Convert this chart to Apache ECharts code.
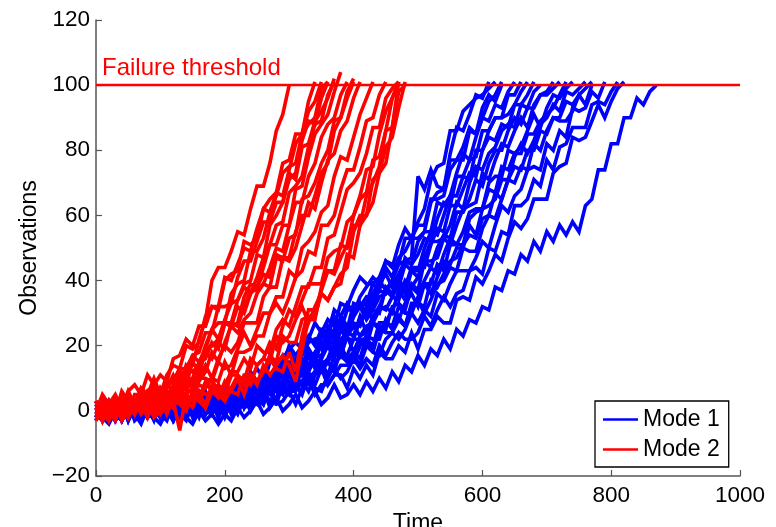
<!DOCTYPE html>
<html><head><meta charset="utf-8">
<script src="https://cdn.jsdelivr.net/npm/echarts@6/dist/echarts.min.js"></script>
<style>html,body{margin:0;padding:0;background:#fff}#c{width:776px;height:527px}</style>
</head><body><div id="c"></div>
<script>
// ---------- data (each path sampled every TIME_STEP time units, starting at t = 0) ----------
const TIME_STEP = 10;
const X_TICKS = [0, 200, 400, 600, 800, 1000];
const Y_TICKS = [-20, 0, 20, 40, 60, 80, 100, 120];
const THRESHOLD = 100;
const THRESHOLD_LABEL = 'Failure threshold';
const MODE_NAMES = ['Mode 1', 'Mode 2'];
const X_NAME = 'Time';
const Y_NAME = 'Observations';

// Mode 2 (red) trajectories
const red01 = [3,-1,2,-1,5,2,2,5,2,8,3,8,9,13,13,14,22,28,40,44,44,49,55,54,62,69,69,76,86,91,100];
const red02 = [-3,1,1,3,1,-1,5,5,2,8,5,7,11,7,13,17,15,19,25,27,27,36,39,40,49,49,53,61,67,66,74,82,85,92,95,101];
const red03 = [-1,1,3,-2,3,5,1,2,6,4,2,8,9,7,14,12,14,20,25,22,28,33,34,39,40,48,47,57,60,64,71,73,83,89,88,96,101];
const red04 = [-3,2,2,-1,4,1,0,4,6,1,5,8,6,10,8,15,12,19,20,22,27,27,34,38,36,41,47,51,57,58,67,69,72,81,88,89,97,101];
const red05 = [0,2,-1,2,-1,4,-1,4,3,2,5,3,8,11,6,10,15,16,21,19,27,26,27,35,39,38,44,51,51,57,57,68,69,78,85,88,91,98,104];
const red06 = [1,-2,2,4,-2,0,3,2,5,1,7,4,3,8,10,8,12,18,16,21,19,27,26,32,37,37,39,44,50,49,57,64,64,72,76,84,88,90,97,101];
const red07 = [3,-1,-3,2,3,-1,1,5,1,4,0,6,3,7,11,9,9,12,18,15,21,26,24,28,30,36,39,38,47,46,53,54,65,66,70,76,80,89,90,96,101];
const red08 = [0,-1,2,-2,4,-2,2,2,4,1,0,6,6,4,10,7,10,14,10,16,20,18,21,27,27,27,35,38,38,47,46,50,57,64,62,70,77,79,86,89,96,101];
const red09 = [-3,2,1,-2,3,0,1,3,-2,3,5,1,3,-6,5,3,10,10,9,15,13,14,19,24,20,25,30,30,35,35,43,41,50,52,55,61,63,72,78,77,84,91,96,101];
const red10 = [3,-2,-1,2,1,-2,3,2,-1,5,1,0,4,7,1,5,8,7,10,9,15,11,18,18,19,23,23,30,33,30,35,41,43,49,48,57,57,60,68,74,74,81,89,90,97,101];
const red11 = [-1,-2,1,3,-3,0,3,0,2,-1,4,-1,4,3,2,5,3,8,10,5,8,12,12,16,13,20,18,18,25,28,26,32,38,38,44,44,53,54,61,68,70,73,79,87,87,96,99,101];
const red12 = [3,-3,2,0,-1,1,-1,3,4,-2,0,3,2,4,1,6,3,1,6,7,4,7,11,8,11,8,14,11,14,17,14,9,19,28,28,38,43,42,47,51,60,65,67,77,78,86,87,98,100];
const red13 = [3,-1,3,-1,6,3,2,7,5,10,5,11,14,13,20,19,21,29,32,32,41,40,45,50,49,56,62,61,66,73,75,76,85,88,90,99,101];
const red14 = [0,5,2,5,1,6,8,5,11,8,11,9,16,17,22,20,26,26,32,31,40,42,43,52,51,53,62,65,67,76,77,85,85,95,101];
const red15 = [1,-2,3,2,0,6,2,1,6,6,4,9,9,13,9,17,18,24,24,32,32,33,41,46,46,52,58,58,64,64,73,71,81,82,89,92,96,102];
const red16 = [-2,2,0,-3,3,0,3,-1,2,4,-1,2,4,2,0,5,5,2,8,5,3,7,10,5,11,9,12,17,15,23,21,21,28,29,29,36,34,38,42,44,55,60,60,71,73,81,84,93,101];
const red17 = [3,-1,-2,2,3,-1,1,4,1,-1,4,3,1,6,2,4,6,1,6,8,4,6,10,10,8,14,16,15,23,21,23,28,32,27,32,36,34,38,39,48,47,57,60,64,73,76,87,101];
const red18 = [-1,3,-1,4,1,-1,3,4,0,4,6,2,1,6,5,7,4,9,6,8,5,11,11,9,16,14,16,21,19,26,31,29,34,39,39,39,47,49,50,58,60,66,74,75,85,92,96,101];
const red19 = [2,-3,2,3,-1,5,1,3,5,1,6,9,5,8,12,12,11,19,20,20,27,26,32,30,36,38,42,41,48,47,47,55,60,60,66,73,76,86,90,98,102];
const red20 = [0,2,-3,2,4,-1,0,4,2,-1,4,4,1,6,3,1,6,5,6,4,9,6,5,11,11,9,12,16,13,12,18,12,23,31,31,37,43,43,51,50,57,57,66,70,75,86,96,101];

// Mode 1 (blue) trajectories
const blue01 = [-2,3,-3,1,0,2,-1,-3,3,2,-1,4,0,2,4,-1,3,6,1,3,6,5,3,9,9,7,13,11,11,16,19,14,19,22,21,24,23,29,25,31,31,32,35,34,39,42,38,42,46,47,72,68,74,69,68,79,87,86,91,97,96,101];
const blue02 = [-2,3,-1,-2,1,4,-2,1,3,0,2,-1,5,-1,4,2,2,4,2,6,8,3,6,10,10,13,10,17,14,14,19,21,19,22,27,24,28,26,33,32,37,41,39,39,41,46,44,51,56,53,58,62,71,75,76,86,86,92,94,96,97,99,101];
const blue03 = [2,3,-3,-1,1,0,3,-1,4,0,-2,2,3,0,2,5,1,4,0,6,2,6,9,7,6,8,12,8,14,17,13,16,17,21,22,19,26,23,28,25,33,32,33,39,37,44,41,47,49,53,53,55,64,67,68,77,77,81,87,85,93,97,95,100];
const blue04 = [1,-3,2,-2,1,3,0,-1,0,3,-2,2,4,-1,2,1,4,3,0,5,1,5,2,9,7,7,11,8,15,10,15,15,19,17,17,23,24,22,29,26,29,33,30,36,40,37,40,45,46,45,52,55,55,64,63,66,73,79,77,84,90,89,94,93,98,101];
const blue05 = [0,2,-1,-3,2,1,-2,3,0,1,3,-2,2,4,-1,1,4,2,-1,5,4,2,8,4,4,8,11,6,10,13,11,14,13,19,15,21,21,21,25,23,29,32,28,31,35,36,40,38,45,43,43,50,55,54,60,66,66,72,71,80,80,86,90,90,91,94,98,101];
const blue06 = [2,-3,1,3,-2,-1,2,0,-2,3,2,-1,4,0,-1,3,5,-1,2,5,2,5,2,8,3,9,8,8,11,8,13,15,11,14,17,17,21,18,25,22,22,28,31,28,32,37,35,39,36,43,41,47,52,52,53,57,64,62,70,75,74,79,81,86,88,87,94,93,98,100];
const blue07 = [2,-1,1,-2,3,-3,2,0,-1,2,-1,3,4,-2,0,2,1,4,0,5,1,0,5,6,3,6,10,7,9,6,12,9,13,17,15,14,16,21,17,23,26,23,26,27,31,32,30,37,34,39,37,46,46,47,53,51,57,62,63,64,73,71,77,82,81,86,90,87,94,97,97,99,101];
const blue08 = [-1,-3,1,2,-2,0,3,-1,1,-3,3,-1,2,4,1,-1,0,3,-1,3,5,1,3,3,7,7,3,9,6,9,6,11,14,12,16,15,15,19,17,23,18,23,24,27,26,25,32,33,31,38,36,40,44,42,48,53,51,55,61,62,62,70,72,72,80,79,81,86,91,87,93,97,96,99,101];
const blue09 = [0,-2,-1,2,-3,1,3,-2,0,-1,2,2,-2,3,-1,2,-2,4,1,1,4,1,6,1,5,5,8,5,4,9,9,7,13,10,12,15,11,17,20,16,18,22,22,20,27,27,26,32,30,30,35,39,36,41,46,45,50,50,57,54,62,63,65,71,71,78,82,79,83,88,90,94,92,98,97,99,101];
const blue10 = [-3,3,0,-1,2,-2,3,-3,1,0,2,-1,-2,3,2,-1,4,0,1,3,-2,3,5,1,2,6,5,2,8,7,5,11,8,8,12,15,10,14,17,15,18,16,23,18,25,24,24,28,26,32,34,30,34,39,40,44,43,50,49,49,56,60,59,65,71,70,75,74,82,80,86,90,89,89,92,97,94,100];
const blue11 = [-2,3,-1,0,2,-3,1,3,-2,-1,2,0,-3,3,2,-1,4,0,-1,2,4,-1,2,5,2,5,2,8,2,8,6,6,9,6,11,13,8,11,14,14,17,14,20,18,17,22,24,22,25,30,27,31,29,36,34,39,43,43,43,47,52,50,57,63,61,66,68,74,75,74,82,80,86,84,93,92,93,98,96,101];
const blue12 = [-1,2,0,-3,2,1,-2,3,-1,-2,1,3,-3,0,1,0,2,-1,4,-2,3,1,1,3,1,5,7,1,4,6,5,8,5,11,7,6,11,13,10,12,16,13,16,14,20,17,21,24,22,22,24,29,26,31,35,32,36,37,43,44,42,50,49,55,54,63,63,65,71,69,77,74,81,82,87,87,87,94,95,94,98,101];
const blue13 = [0,-1,1,-2,2,3,-3,-1,1,0,2,-2,3,-1,-3,2,3,-1,1,4,0,2,-1,4,0,4,6,3,2,3,6,2,7,10,5,8,8,11,11,7,13,10,14,11,18,16,16,20,18,24,19,25,25,29,27,27,34,35,34,41,39,43,48,46,53,58,56,59,65,65,65,73,75,76,84,83,84,89,94,90,95,99,101];
const blue14 = [1,-2,-4,0,-3,2,-1,-4,1,-2,-4,0,-3,1,-2,-4,0,-3,-1,-4,-1,-3,1,-2,0,3,-1,1,4,0,2,5,1,3,6,2,4,8,4,5,8,5,9,6,10,7,12,9,14,12,17,14,19,17,22,19,25,23,28,27,32,31,38,37,43,42,48,46,52,49,55,52,57,54,58,55,63,65,74,74,82,82,90,90,96,94,98,100];
const blue15 = [1,-2,3,-1,-3,2,1,2,-1,4,0,-2,4,3,0,5,3,2,5,1,5,7,4,7,12,9,8,15,15,14,20,17,20,23,20,25,24,31,29,33,30,35,38,41,39,46,45,45,53,53,57,57,65,65,66,74,77,77,86,85,90,95,97,101];
const blue16 = [-2,1,3,-3,0,2,-1,2,-1,4,-2,3,1,1,5,0,3,4,0,3,5,2,8,5,8,5,11,10,9,15,12,15,14,19,16,23,22,25,27,24,29,33,29,33,37,36,40,39,47,45,48,53,52,59,64,63,72,72,77,78,86,86,90,90,97,97,101];
const blue17 = [2,0,-3,1,2,-2,3,-1,-2,2,3,1,-1,4,0,3,-1,4,2,4,0,4,7,1,5,8,6,9,7,13,8,12,16,14,18,16,23,20,20,26,27,26,32,31,30,38,36,40,38,44,44,44,51,56,55,63,63,68,73,72,80,84,83,88,87,94,94,97,101];
const blue18 = [-1,3,-2,0,2,-3,1,2,-1,-2,4,1,-1,2,3,-2,3,5,1,0,4,3,1,7,4,7,5,9,8,6,12,12,11,17,13,16,20,16,22,24,23,29,24,29,32,31,35,34,40,38,41,46,44,50,54,53,61,61,65,71,69,76,80,80,86,90,88,93,93,97,98,101];
const blue19 = [3,-2,0,2,-3,1,-1,3,-2,1,0,-2,3,2,-1,4,0,1,3,-2,2,4,1,6,3,2,8,6,8,6,12,9,8,14,14,12,15,19,17,17,22,22,20,27,25,27,31,28,33,36,32,39,39,45,43,51,51,51,59,61,62,68,67,75,74,79,79,85,85,89,91,93,97,101];
const blue20 = [-2,1,3,-1,-3,2,0,-2,3,1,-1,-3,3,2,-1,4,1,0,3,-2,2,5,0,3,5,3,2,8,7,5,11,8,9,12,8,13,15,12,19,16,15,20,23,22,22,28,25,29,26,33,33,32,40,38,42,46,47,51,54,53,59,60,67,65,71,75,74,80,80,86,85,90,90,95,94,97,99,101];

const MODE1_PATHS = [blue01,blue02,blue03,blue04,blue05,blue06,blue07,blue08,blue09,blue10,
                     blue11,blue12,blue13,blue14,blue15,blue16,blue17,blue18,blue19,blue20];
const MODE2_PATHS = [red01,red02,red03,red04,red05,red06,red07,red08,red09,red10,
                     red11,red12,red13,red14,red15,red16,red17,red18,red19,red20];

// ---------- chart ----------
const FONT = 'Liberation Sans, Arial, Helvetica, sans-serif';
const BLUE = '#0000ff', RED = '#ff0000', AXIS = '#555555';

function toPairs(path) { return path.map((v, i) => [i * TIME_STEP, v]); }
function pathSeries(path, name, color) {
  return {
    type: 'line', name: name, data: toPairs(path),
    symbol: 'none', showSymbol: false, smooth: false, silent: true,
    lineStyle: { color: color, width: 3.6, join: 'miter', miterLimit: 3 }, itemStyle: { color: color },
    emphasis: { disabled: true }
  };
}

const series = [];
MODE1_PATHS.forEach(p => series.push(pathSeries(p, MODE_NAMES[0], BLUE)));
MODE2_PATHS.forEach(p => series.push(pathSeries(p, MODE_NAMES[1], RED)));
series.push({
  type: 'line', name: 'threshold', data: [], z: 10, silent: true,
  markLine: {
    silent: true, symbol: ['none', 'none'], animation: false,
    lineStyle: { color: RED, width: 2.4, type: 'solid' },
    label: { show: true, position: 'insideStartTop', formatter: THRESHOLD_LABEL,
             color: RED, fontFamily: FONT, fontSize: 24, distance: [6, 5] },
    data: [{ yAxis: THRESHOLD }]
  }
});

const chart = echarts.init(document.getElementById('c'), null, { renderer: 'canvas' });
chart.setOption({
  animation: false,
  backgroundColor: '#ffffff',
  grid: { left: 96, right: 36, top: 20, bottom: 51, containLabel: false, outerBoundsMode: 'none' },
  xAxis: {
    type: 'value', min: X_TICKS[0], max: X_TICKS[X_TICKS.length - 1], interval: X_TICKS[1] - X_TICKS[0],
    name: X_NAME, nameLocation: 'middle', nameGap: 31,
    nameTextStyle: { fontFamily: FONT, fontSize: 23, color: '#000' },
    axisLine: { show: true, onZero: false, lineStyle: { color: AXIS, width: 1.5 } },
    axisTick: { show: true, inside: true, length: 6, lineStyle: { color: AXIS, width: 1.2 } },
    axisLabel: { fontFamily: FONT, fontSize: 22.5, color: '#000', margin: 8,
                 formatter: v => String(v) },
    splitLine: { show: false }
  },
  yAxis: {
    type: 'value', min: Y_TICKS[0], max: Y_TICKS[Y_TICKS.length - 1], interval: Y_TICKS[1] - Y_TICKS[0],
    name: Y_NAME, nameLocation: 'middle', nameGap: 52, nameRotate: 90,
    nameTextStyle: { fontFamily: FONT, fontSize: 23, color: '#000' },
    axisLine: { show: true, onZero: false, lineStyle: { color: AXIS, width: 1.5 } },
    axisTick: { show: true, inside: true, length: 6, lineStyle: { color: AXIS, width: 1.2 } },
    axisLabel: { fontFamily: FONT, fontSize: 22.5, color: '#000', margin: 6,
                 formatter: v => String(v).replace('-', '\u2212') },
    splitLine: { show: false }
  },
  legend: {
    data: MODE_NAMES.map(n => ({ name: n, icon: 'rect' })),
    left: 595, top: 401, orient: 'vertical',
    padding: [7, 9, 6, 8], itemGap: 7, itemWidth: 35, itemHeight: 2.5,
    backgroundColor: '#ffffff', borderColor: '#000000', borderWidth: 1.3, borderRadius: 0,
    selectedMode: false,
    textStyle: { fontFamily: FONT, fontSize: 23, color: '#000' }
  },
  series: series
});
</script></body></html>
